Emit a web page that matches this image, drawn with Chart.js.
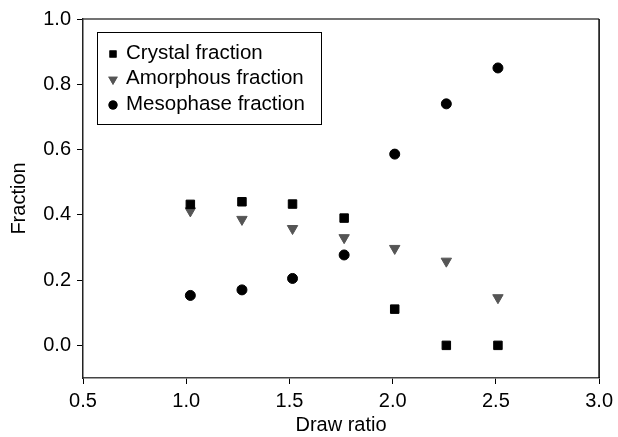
<!DOCTYPE html>
<html>
<head>
<meta charset="utf-8">
<script src="https://cdn.jsdelivr.net/npm/chart.js@4/dist/chart.umd.min.js"></script>
<style>
  html, body { margin: 0; padding: 0; background: #fff; }
  #wrap { width: 618px; height: 437px; }
</style>
</head>
<body>
<div id="wrap"><canvas id="chart" width="618" height="437"></canvas></div>
<script>
// draw ratio for each sample, and the phase fractions measured at it
const drawRatio = [1.02, 1.27, 1.515, 1.765, 2.01, 2.26, 2.51];
const crystal = [0.432, 0.44, 0.433, 0.39, 0.111, 0.0, 0.0];
const amorphous = [0.412, 0.386, 0.358, 0.33, 0.297, 0.258, 0.146];
const mesophase = [0.153, 0.17, 0.205, 0.277, 0.586, 0.74, 0.85];

const xTicks = [0.5, 1.0, 1.5, 2.0, 2.5, 3.0];
const yTicks = [0.0, 0.2, 0.4, 0.6, 0.8, 1.0];

const FONT = "'Liberation Sans', Arial, sans-serif";

const toPoints = ys => ys.map((y, i) => ({ x: drawRatio[i], y: y }));

const series = [
    { label: 'Crystal fraction', data: toPoints(crystal), pointStyle: 'rect', pointRadius: 6, color: '#000',
      legendRadius: 5, rotation: 0 },
    { label: 'Amorphous fraction', data: toPoints(amorphous), pointStyle: 'triangle', pointRadius: 6, color: '#555',
      legendRadius: 5.5, rotation: 180 },
    { label: 'Mesophase fraction', data: toPoints(mesophase), pointStyle: 'circle', pointRadius: 5, color: '#000',
      legendRadius: 4.5, rotation: 0 },
];

// box round the plot area plus the legend in its upper left corner
const framePlugin = {
    id: 'frame',
    afterDraw(chart) {
        const { ctx, chartArea: a } = chart;
        ctx.save();
        ctx.lineWidth = 1.5;
        ctx.strokeStyle = '#444';
        ctx.beginPath();
        ctx.moveTo(a.left, a.top);
        ctx.lineTo(a.right, a.top);
        ctx.stroke();
        ctx.strokeStyle = '#000';
        ctx.beginPath();
        ctx.moveTo(a.right, a.top);
        ctx.lineTo(a.right, a.bottom);
        ctx.stroke();

        // legend
        const bx = 97.5, by = 32.5, bw = 224, bh = 92;
        ctx.lineWidth = 1;
        ctx.strokeStyle = '#000';
        ctx.strokeRect(bx, by, bw, bh);
        ctx.font = '20.5px ' + FONT;
        ctx.textBaseline = 'middle';
        ctx.fillStyle = '#000';
        series.forEach((s, i) => {
            const y = 53 + i * 25.5;
            ctx.fillStyle = s.color;
            ctx.strokeStyle = s.color;
            Chart.helpers.drawPoint(ctx, { pointStyle: s.pointStyle, radius: s.legendRadius, rotation: s.rotation, borderWidth: 0 }, 113, y + 1);
            ctx.fill();
            ctx.fillStyle = '#000';
            ctx.fillText(s.label, 126, y);
        });
        ctx.restore();
    }
};

new Chart(document.getElementById('chart'), {
    type: 'scatter',
    data: {
        datasets: series.map(s => ({
            label: s.label,
            data: s.data,
            pointStyle: s.pointStyle,
            pointRadius: s.pointRadius,
            pointRotation: s.rotation,
            pointBackgroundColor: s.color,
            pointBorderColor: s.color,
            pointBorderWidth: 1,
        })),
    },
    options: {
        responsive: false,
        animation: false,
        layout: { padding: { top: 19, right: 17, left: 0, bottom: 0 } },
        plugins: {
            legend: { display: false },
            tooltip: { enabled: false },
        },
        scales: {
            x: {
                type: 'linear',
                min: 0.5,
                max: 3.0,
                afterBuildTicks: scale => { scale.ticks = xTicks.map(v => ({ value: v })); },
                afterFit: scale => { scale.height = 59; },
                grid: { display: true, drawOnChartArea: false, drawTicks: true, tickLength: 6, color: '#000', lineWidth: 1 },
                border: { display: true, color: '#444', width: 1.5 },
                ticks: {
                    color: '#000',
                    padding: 5,
                    maxRotation: 0,
                    font: { family: FONT, size: 20 },
                    callback: v => v.toFixed(1),
                },
                title: {
                    display: true,
                    text: 'Draw ratio',
                    color: '#000',
                    font: { family: FONT, size: 20 },
                    padding: { top: 0, bottom: 0 },
                },
            },
            y: {
                type: 'linear',
                min: -0.1,
                max: 1.0,
                afterBuildTicks: scale => { scale.ticks = yTicks.map(v => ({ value: v })); },
                afterFit: scale => { scale.width = 83; },
                grid: { display: true, drawOnChartArea: false, drawTicks: true, tickLength: 6, color: '#000', lineWidth: 1 },
                border: { display: true, color: '#222', width: 1.5 },
                ticks: {
                    color: '#000',
                    padding: 6,
                    font: { family: FONT, size: 20 },
                    callback: v => v.toFixed(1),
                },
                title: {
                    display: true,
                    text: 'Fraction',
                    color: '#000',
                    font: { family: FONT, size: 20 },
                    padding: { top: 7, bottom: 0 },
                },
            },
        },
    },
    plugins: [framePlugin],
});
</script>
</body>
</html>
